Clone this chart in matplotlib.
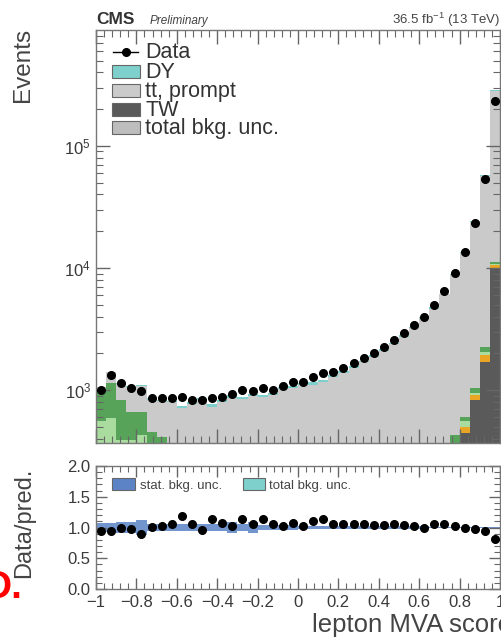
import numpy as np
import matplotlib
matplotlib.use("Agg")
import matplotlib.pyplot as plt
from matplotlib.patches import Rectangle
from matplotlib.lines import Line2D
from matplotlib.ticker import MultipleLocator, FixedLocator, FixedFormatter, LogLocator, NullFormatter

plt.rcParams['font.family'] = ['Liberation Sans', 'DejaVu Sans']
plt.rcParams['mathtext.fontset'] = 'custom'
plt.rcParams['mathtext.rm'] = 'Liberation Sans'
plt.rcParams['mathtext.it'] = 'Liberation Sans:italic'
plt.rcParams['mathtext.bf'] = 'Liberation Sans:bold'
plt.rcParams['mathtext.default'] = 'regular'

# ---------------- data (40 bins from -1 to 1) ----------------
bin_edges = np.linspace(-1.0, 1.0, 41)

data = [1000, 1330, 1140, 1040, 980, 860, 860, 860, 870, 830,
        830, 860, 880, 920, 1000, 990, 1040, 1000, 1080, 1160,
        1160, 1280, 1380, 1400, 1510, 1660, 1830, 2010, 2250, 2570,
        2930, 3410, 3960, 4980, 6480, 9100, 13500, 23400, 54000, 235000]

tw = [0, 0, 0, 0, 0, 0, 0, 0, 0, 0,
      0, 0, 0, 0, 0, 0, 0, 0, 0, 0,
      0, 0, 0, 0, 0, 0, 0, 0, 0, 0,
      20, 30, 45, 70, 110, 200, 445, 830, 1700, 10000]

orange = [0, 0, 0, 0, 0, 0, 0, 0, 0, 0,
          0, 0, 0, 0, 0, 0, 0, 0, 0, 0,
          0, 0, 0, 0, 0, 0, 0, 0, 0, 0,
          5, 6, 8, 10, 15, 30, 50, 80, 250, 600]

light_green = [560, 590, 390, 390, 430, 200, 130, 100, 60, 40,
               30, 20, 15, 12, 10, 10, 8, 8, 8, 8,
               7, 7, 7, 7, 7, 8, 8, 8, 9, 10,
               10, 12, 14, 16, 20, 40, 60, 30, 100, 200]

dark_green = [440, 550, 440, 270, 230, 250, 280, 240, 160, 100,
              70, 50, 40, 30, 25, 20, 18, 16, 15, 14,
              13, 12, 12, 12, 12, 12, 13, 14, 15, 16,
              18, 20, 25, 30, 50, 160, 45, 90, 200, 300]

tt_prompt = [64, 255, 290, 390, 420, 380, 400, 455, 490, 620,
             735, 660, 735, 825, 807, 868, 850, 890, 996, 1010,
             1072, 1088, 1144, 1264, 1367, 1506, 1664, 1850, 2074, 2352,
             2689, 3163, 3783, 4522, 5866, 8362, 12750, 22894, 54897, 271485]

dy = [0, 20, 20, 22, 21, 21, 25, 24, 27, 30,
      30, 31, 32, 35, 35, 36, 36, 38, 40, 42,
      45, 46, 48, 50, 52, 55, 58, 61, 65, 70,
      75, 80, 85, 95, 110, 130, 150, 200, 300, 4000]

stat_unc = [0.08, 0.08, 0.09, 0.09, 0.12, 0.06, 0.06, 0.06, 0.05, 0.05,
            0.05, 0.05, 0.05, 0.09, 0.05, 0.09, 0.04, 0.04, 0.035, 0.035,
            0.03, 0.03, 0.03, 0.025, 0.025, 0.025, 0.02, 0.02, 0.02, 0.02,
            0.02, 0.018, 0.018, 0.016, 0.015, 0.015, 0.012, 0.012, 0.01, 0.01]

xtick_values = [-1, -0.8, -0.6, -0.4, -0.2, 0, 0.2, 0.4, 0.6, 0.8, 1]
xtick_labels = ["\u22121", "\u22120.8", "\u22120.6", "\u22120.4", "\u22120.2", "0",
                "0.2", "0.4", "0.6", "0.8", "1"]
rtick_values = [0.0, 0.5, 1.0, 1.5, 2.0]
rtick_labels = ["0.0", "0.5", "1.0", "1.5", "2.0"]

# ---------------- colours ----------------
C_TT = '#cacaca'
C_DY = '#7dd0cb'
C_TW = '#5a5a5a'
C_OR = '#e8a624'
C_LG = '#a9dc9e'
C_DG = '#58a35a'
C_STAT = '#5b83c6'
C_TOT = '#bdbdbd'
TXT = '#3a3a3a'

W, H = 501, 641
fig = plt.figure(figsize=(W / 100, H / 100), dpi=100)
fx = lambda x: x / W
fy = lambda y: 1 - y / H

ax1 = fig.add_axes([fx(96), fy(443), 404 / W, 413 / H])
ax2 = fig.add_axes([fx(96), fy(589), 404 / W, 123 / H])

centers = 0.5 * (bin_edges[:-1] + bin_edges[1:])
data_a = np.array(data, float)

stack = [(tw, C_TW), (orange, C_OR), (light_green, C_LG), (dark_green, C_DG),
         (tt_prompt, C_TT), (dy, C_DY)]
bottom = np.ones(len(data))
for vals, col in stack:
    top = bottom + np.array(vals, float)
    ax1.stairs(top, bin_edges, baseline=bottom, fill=True, color=col, lw=0)
    bottom = top
total_mc = bottom - 1.0

ax1.errorbar(centers, data_a, yerr=np.sqrt(data_a), fmt='o', color='black',
             ms=5.5, elinewidth=1, capsize=0, zorder=5)

ax1.set_xlim(-1, 1)
ax1.set_yscale('log')
ax1.set_ylim(368, 8.9e5)
ax1.yaxis.set_major_locator(FixedLocator([1e3, 1e4, 1e5]))
ax1.yaxis.set_major_formatter(FixedFormatter(['$10^{3}$', '$10^{4}$', '$10^{5}$']))
ax1.yaxis.set_minor_locator(LogLocator(base=10, subs=np.arange(2, 10)))
ax1.yaxis.set_minor_formatter(NullFormatter())
ax1.xaxis.set_major_locator(FixedLocator(xtick_values))
ax1.xaxis.set_minor_locator(MultipleLocator(0.04))
ax1.tick_params(which='both', direction='in', top=True, right=True,
                labelbottom=False, color='#666666', labelcolor=TXT, labelsize=12)
ax1.tick_params(which='major', length=10, width=1)
ax1.tick_params(which='minor', length=5, width=0.8)

# ---------------- ratio panel ----------------
ratio = data_a / total_mc
stat_a = np.array(stat_unc)
ax2.stairs(1 + stat_a, bin_edges, baseline=1 - stat_a, fill=True, color=C_STAT, lw=0, alpha=0.85)
ax2.errorbar(centers, ratio, yerr=np.sqrt(data_a) / total_mc, fmt='o', color='black',
             ms=5.5, elinewidth=1, capsize=0, zorder=5)
ax2.set_xlim(-1, 1)
ax2.set_ylim(0, 2)
ax2.xaxis.set_major_locator(FixedLocator(xtick_values))
ax2.xaxis.set_major_formatter(FixedFormatter(xtick_labels))
ax2.xaxis.set_minor_locator(MultipleLocator(0.04))
ax2.yaxis.set_major_locator(FixedLocator(rtick_values))
ax2.yaxis.set_major_formatter(FixedFormatter(rtick_labels))
ax2.yaxis.set_minor_locator(MultipleLocator(0.1))
ax2.tick_params(which='both', direction='in', top=True, right=True,
                color='#666666', labelcolor=TXT, labelsize=12)
ax2.tick_params(which='major', length=8, width=1, pad=4)
ax2.tick_params(which='minor', length=4, width=0.8)

for ax in (ax1, ax2):
    for s in ax.spines.values():
        s.set_color('#777777')
        s.set_linewidth(1.0)

# ---------------- legends (manual) ----------------
def box(x0, y0, x1, y1, fc, ec='#666666'):
    fig.patches.append(Rectangle((fx(x0), fy(y1)), (x1 - x0) / W, (y1 - y0) / H,
                                 transform=fig.transFigure, facecolor=fc,
                                 edgecolor=ec, lw=0.8, zorder=10))

fig.lines.append(Line2D([fx(113), fx(138)], [fy(52), fy(52)], transform=fig.transFigure,
                        color='black', lw=1, zorder=10))
fig.lines.append(Line2D([fx(126)], [fy(52)], transform=fig.transFigure, marker='o',
                        color='black', ms=5.5, zorder=11))
leg_items = [("Data", 58, None), ("DY", 78, C_DY), ("tt, prompt", 97, C_TT),
             ("TW", 116, C_TW), ("total bkg. unc.", 134, C_TOT)]
for lab, yb, col in leg_items:
    if col is not None:
        box(112, yb - 13, 140, yb, col)
    fig.text(fx(145), fy(yb), lab, fontsize=15.5, color='#333333', va='baseline', ha='left')

box(112, 478, 135, 490, C_STAT)
fig.text(fx(140), fy(489), "stat. bkg. unc.", fontsize=9.5, color='#444444', va='baseline')
box(243, 478, 265, 490, C_DY)
fig.text(fx(269), fy(489), "total bkg. unc.", fontsize=9.5, color='#444444', va='baseline')

# ---------------- labels ----------------
fig.text(fx(96), fy(20), "CMS", fontsize=12.5, fontweight='bold', color='#333333', va='center')
fig.text(fx(150), fy(21), "Preliminary", fontsize=8.5, style='italic', color='#444444', va='center')
fig.text(fx(500), fy(20), "36.5 fb$^{-1}$ (13 TeV)", fontsize=9.5, color='#444444',
         va='center', ha='right')
fig.text(fx(23), fy(65), "Events", fontsize=17.5, rotation=90, color='#444444',
         ha='center', va='center')
fig.text(fx(24), fy(523), "Data/pred.", fontsize=17, rotation=90, color='#444444',
         ha='center', va='center')
fig.text(fx(312), fy(632), "lepton MVA score", fontsize=18.5, color='#444444',
         ha='left', va='baseline')
fig.text(fx(22), fy(598), "D.", fontsize=28, fontweight='bold', color='red',
         ha='right', va='baseline')

fig.savefig("out.png", dpi=100)
